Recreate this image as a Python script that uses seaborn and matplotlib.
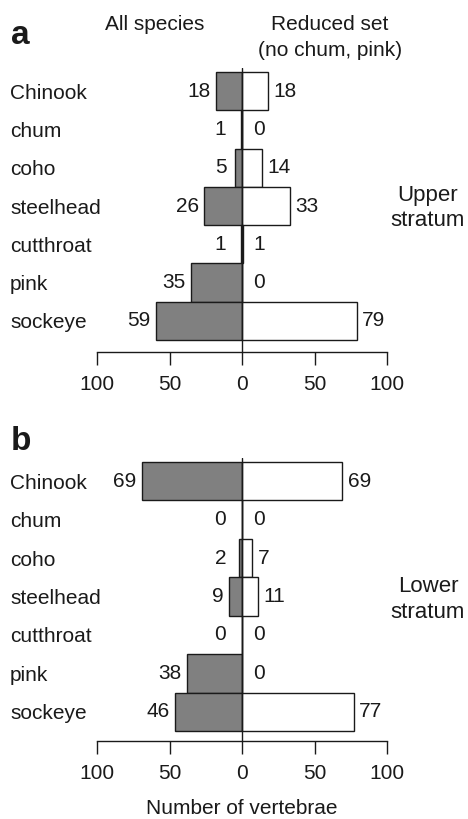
import numpy as np
import pandas as pd
import matplotlib
matplotlib.use("Agg")
import matplotlib.pyplot as plt
import seaborn as sns

# data
species = ["Chinook", "chum", "coho", "steelhead", "cutthroat", "pink", "sockeye"]
upper_all = [18, 1, 5, 26, 1, 35, 59]
upper_reduced = [18, 0, 14, 33, 1, 0, 79]
lower_all = [69, 0, 2, 9, 0, 38, 46]
lower_reduced = [69, 0, 7, 11, 0, 0, 77]

tick_pos = [-100, -50, 0, 50, 100]
tick_labels = ["100", "50", "0", "50", "100"]

sns.set_theme(style="white")
plt.rcParams["font.family"] = ["Liberation Sans", "DejaVu Sans"]

W, H = 468, 819
FS = 15
INK = "#1a1a1a"
fig = plt.figure(figsize=(W / 100, H / 100), dpi=100)


def px_axes(left, right, top, bottom):
    return fig.add_axes([left / W, 1 - bottom / H, (right - left) / W, (bottom - top) / H])


def draw_panel(ax, all_vals, red_vals, top_pad, bot_pad, xlabel=None):
    df = pd.DataFrame({"species": species,
                       "all": -np.array(all_vals),
                       "reduced": np.array(red_vals)})
    sns.barplot(data=df, x="all", y="species", orient="h", color="#808080",
                edgecolor=INK, linewidth=1.0, width=1.0, saturation=1, ax=ax)
    sns.barplot(data=df, x="reduced", y="species", orient="h", color="white",
                edgecolor=INK, linewidth=1.0, width=1.0, saturation=1, ax=ax)
    ax.axvline(0, color=INK, lw=1.0, zorder=5)
    ax.set_xlim(-100, 100)
    ax.set_ylim(6.5 + bot_pad, -0.5 - top_pad)

    # value labels
    for i, (a, r) in enumerate(zip(all_vals, red_vals)):
        ax.annotate(str(a), (-max(a, 7), i), xytext=(-4, 0), textcoords="offset points",
                    ha="right", va="center", fontsize=FS, color=INK)
        ax.annotate(str(r), (max(r, 4), i), xytext=(4, 0), textcoords="offset points",
                    ha="left", va="center", fontsize=FS, color=INK)

    ax.set_yticks(range(len(species)))
    ax.set_yticklabels(species, ha="left", fontsize=FS, color=INK)
    ax.tick_params(axis="y", length=0, pad=62.6)
    ax.set_ylabel("")

    ax.set_xticks(tick_pos)
    ax.set_xticklabels(tick_labels, fontsize=FS, color=INK)
    ax.tick_params(axis="x", bottom=True, length=9.4, width=1.0, color=INK, pad=7.5)
    ax.set_xlabel(xlabel if xlabel else "", fontsize=FS, color=INK, labelpad=11)

    for s in ["left", "right", "top"]:
        ax.spines[s].set_visible(False)
    ax.spines["bottom"].set_color(INK)
    ax.spines["bottom"].set_linewidth(1.0)


ax_a = px_axes(97, 387, 68, 352)
draw_panel(ax_a, upper_all, upper_reduced, 4 / 38.3, 12 / 38.3)

ax_b = px_axes(97, 387, 458, 741)
draw_panel(ax_b, lower_all, lower_reduced, 4 / 38.4, 10 / 38.4, xlabel="Number of vertebrae")

txt = dict(fontsize=FS, color=INK, ha="center", va="center")
fig.text(11 / W, 1 - 36 / H, "a", fontsize=24, fontweight="bold", ha="left", va="center", color=INK)
fig.text(11 / W, 1 - 442 / H, "b", fontsize=24, fontweight="bold", ha="left", va="center", color=INK)
fig.text(155 / W, 1 - 25 / H, "All species", **txt)
fig.text(330 / W, 1 - 25 / H, "Reduced set", **txt)
fig.text(330 / W, 1 - 50 / H, "(no chum, pink)", **txt)
big = dict(txt, fontsize=16)
fig.text(428 / W, 1 - 196 / H, "Upper", **big)
fig.text(428 / W, 1 - 221 / H, "stratum", **big)
fig.text(428 / W, 1 - 587 / H, "Lower", **big)
fig.text(428 / W, 1 - 612 / H, "stratum", **big)

fig.savefig("out.png", dpi=100)
